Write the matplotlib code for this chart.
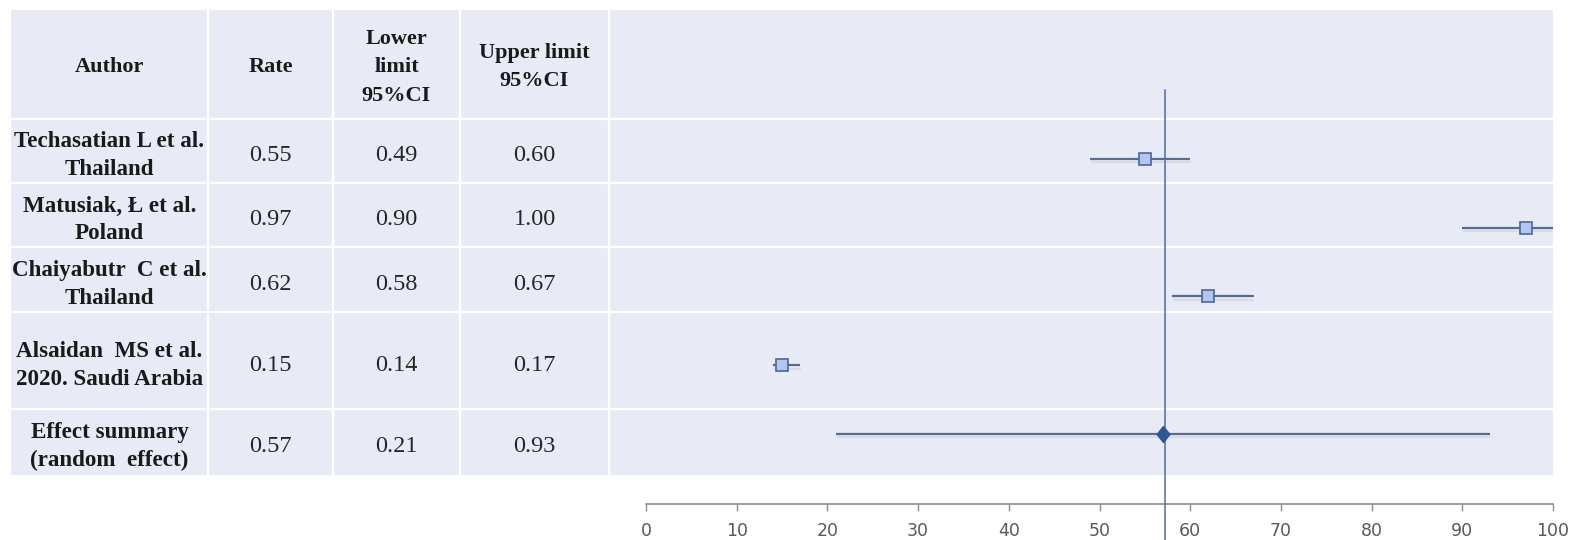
import matplotlib
matplotlib.use("Agg")
import matplotlib.pyplot as plt
import matplotlib.patheffects as pe
from matplotlib.patches import Rectangle

# ---------------- data ----------------
authors = ["Techasatian L et al.\nThailand",
           "Matusiak, Ł et al.\nPoland",
           "Chaiyabutr  C et al.\nThailand",
           "Alsaidan  MS et al.\n2020. Saudi Arabia",
           "Effect summary\n(random  effect)"]
rates = [0.55, 0.97, 0.62, 0.15, 0.57]
lower = [0.49, 0.90, 0.58, 0.14, 0.21]
upper = [0.60, 1.00, 0.67, 0.17, 0.93]
headers = ["Author", "Rate", "Lower\nlimit\n95%CI", "Upper limit\n95%CI"]
xticks = [0, 10, 20, 30, 40, 50, 60, 70, 80, 90, 100]
summary_value = 57.2

W, H = 1573, 540
fig = plt.figure(figsize=(W / 100, H / 100), dpi=100)
fig.patch.set_facecolor("white")

# ---------------- table background (pixel coordinates) ----------------
bg = fig.add_axes([0, 0, 1, 1])
bg.set_xlim(0, W)
bg.set_ylim(H, 0)
bg.axis("off")

panel_l, panel_r, panel_t, panel_b = 11, 1553, 10, 475
col_edges = [panel_l, 208, 333, 460, 609, panel_r]
row_edges = [panel_t, 118.6, 182.7, 247.1, 311.5, 408.8, panel_b]

bg.add_patch(Rectangle((panel_l, panel_t), panel_r - panel_l, panel_b - panel_t,
                       facecolor="#e8ebf5", edgecolor="none", zorder=0))
for x in col_edges[1:-1]:
    bg.plot([x, x], [panel_t, panel_b], color="white", lw=1.6, zorder=1)
for y in row_edges[1:-1]:
    bg.plot([panel_l, panel_r], [y, y], color="white", lw=1.6, zorder=1)

col_centers = [(col_edges[i] + col_edges[i + 1]) / 2 for i in range(4)]
row_centers = [(row_edges[i] + row_edges[i + 1]) / 2 for i in range(6)]

serif = ["Liberation Serif", "DejaVu Serif"]
fs = 17.5
for c, h in enumerate(headers):
    bg.text(col_centers[c], row_centers[0] + 3, h, ha="center", va="center",
            family=serif, fontweight="bold", fontsize=fs - 1.5, linespacing=1.55,
            color="#1a1a1a")

for r in range(len(authors)):
    yc = row_centers[r + 1] + 5
    bg.text(col_centers[0], yc, authors[r], ha="center", va="center",
            family=serif, fontweight="bold", fontsize=16.6, linespacing=1.42,
            color="#1a1a1a")
    for c, vals in zip([1, 2, 3], [rates, lower, upper]):
        bg.text(col_centers[c], yc, f"{vals[r]:.2f}", ha="center", va="center",
                family=serif, fontsize=fs, color="#262626")

# ---------------- forest plot ----------------
ax_l, ax_r = 646, 1553
ax_top, ax_bot = 90, 504
ax = fig.add_axes([ax_l / W, (H - ax_bot) / H, (ax_r - ax_l) / W, (ax_bot - ax_top) / H])
ax.patch.set_visible(False)
ax.set_xlim(0, 100)
ax.set_ylim(5.02, -1.0)

line_col = "#5a6b8f"
shadow = [pe.SimpleLineShadow(offset=(0.5, -2.5), shadow_color="#8a96b5", alpha=0.18),
          pe.Normal()]
n = len(rates)
for i in range(n):
    ax.plot([lower[i] * 100, upper[i] * 100], [i, i], color=line_col, lw=1.6,
            solid_capstyle="butt", path_effects=shadow, zorder=3)

# study markers
ax.plot([r * 100 for r in rates[:-1]], list(range(n - 1)), ls="none", marker="s",
        markersize=8.6, markerfacecolor="#b3c6ef", markeredgecolor="#4f6594",
        markeredgewidth=1.2, zorder=5)

# summary diamond
diamond = [(0, 1), (0.8, 0), (0, -1), (-0.8, 0), (0, 1)]
ax.plot([rates[-1] * 100], [n - 1], ls="none", marker=diamond, markersize=11.5,
        markerfacecolor="#2f5597", markeredgecolor="#2f5597", zorder=6)

# vertical line at the pooled estimate
ax.axvline(summary_value, ymin=-(H - ax_bot) / (ax_bot - ax_top), ymax=1,
           color="#4a6fa5", lw=1.1, clip_on=False, zorder=4)

for s in ["top", "right", "left"]:
    ax.spines[s].set_visible(False)
ax.spines["bottom"].set_color("#8c8c8c")
ax.spines["bottom"].set_linewidth(1.2)
ax.set_yticks([])
ax.set_xticks(xticks)
ax.set_xticklabels([str(t) for t in xticks])
ax.tick_params(axis="x", direction="out", length=5, width=1, color="#8c8c8c",
               labelsize=12.5, labelcolor="#595959", pad=8)

fig.savefig("out.png", dpi=100)
